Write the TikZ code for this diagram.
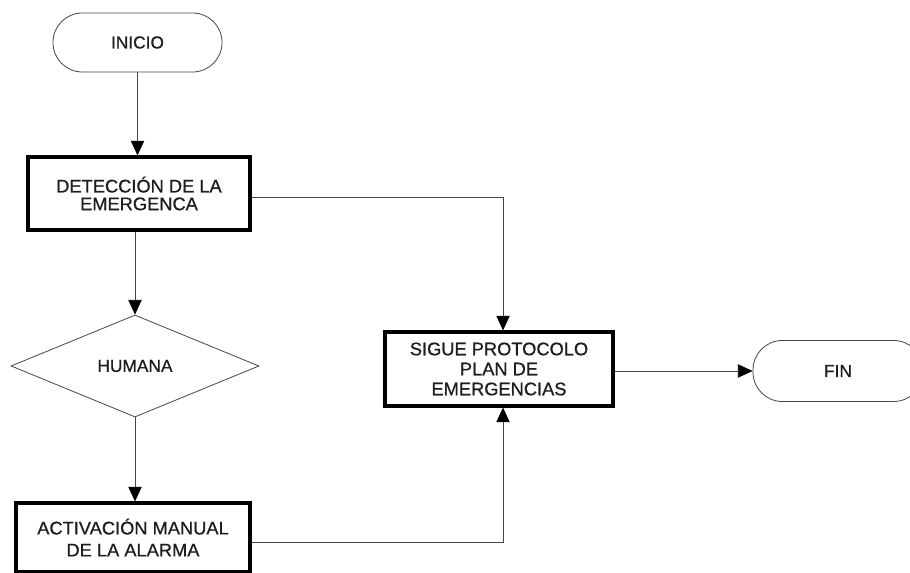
\documentclass[tikz,border=0pt]{standalone}
\usepackage{fontspec}
\setmainfont{Liberation Sans}
\newfontfamily\diagfont{Liberation Sans}[FakeBold=0.8]
\usetikzlibrary{shapes.geometric,arrows.meta}
\definecolor{ink}{RGB}{30,30,30}
\definecolor{wire}{RGB}{70,70,70}
\begin{document}
\begin{tikzpicture}[x=0.75pt,y=-0.75pt,
  term/.style={draw=wire,line width=0.6pt,rounded corners=22pt,minimum height=44.25pt,inner sep=0pt,text=ink,font=\diagfont\fontsize{13}{15}\selectfont},
  procbox/.style={draw=black,line width=2.3pt,inner sep=0pt,align=center,text=ink},
  decision/.style={draw=wire,line width=0.6pt,diamond,inner sep=0pt,minimum width=186pt,minimum height=76.5pt,text=ink,font=\diagfont\fontsize{13}{15}\selectfont},
  arr/.style={draw=wire,line width=0.6pt,-{Triangle[length=11pt,width=10pt,color=black]}}]
\useasboundingbox (0,0) rectangle (910,573);
\clip (0,0) rectangle (910,573);
\node[term,minimum width=126.75pt] (ini) at (137.5,42.5) {INICIO};
\node[procbox,minimum width=166.5pt,minimum height=54.75pt,font=\diagfont\fontsize{13.7}{13.3}\selectfont] (det) at (139,193.5) {DETECCIÓN DE LA\\EMERGENCA};
\node[decision] (hum) at (135,366) {HUMANA};
\node[procbox,minimum width=175.5pt,minimum height=51.75pt,font=\diagfont\fontsize{13.7}{16.5}\selectfont] (act) at (133,537.5) {ACTIVACIÓN MANUAL\\DE LA ALARMA};
\node[procbox,minimum width=171pt,minimum height=55.5pt,font=\diagfont\fontsize{13.7}{15}\selectfont] (sig) at (499,369) {SIGUE PROTOCOLO\\PLAN DE\\EMERGENCIAS};
\node[term,minimum width=127.5pt,minimum height=45.75pt] (fin) at (838,371) {FIN};
\draw[arr] (ini.south) -- (det.north -| ini.south);
\draw[arr] (hum.north |- det.south) -- (hum.north);
\draw[arr] (hum.south) -- (act.north -| hum.south);
\draw[arr] ([yshift=-2.6pt]det.east) -| ([xshift=3pt]sig.north);
\draw[arr] ([yshift=-3.4pt]act.east) -| ([xshift=3pt]sig.south);
\draw[arr] (sig.east |- fin.west) -- (fin.west);
\end{tikzpicture}
\end{document}
